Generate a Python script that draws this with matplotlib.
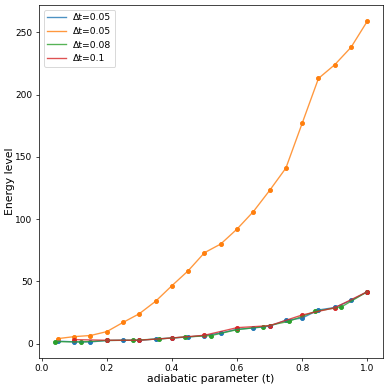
import matplotlib
matplotlib.use('Agg')
import matplotlib.pyplot as plt

# time grids for each step size
t_005 = [0.05, 0.1, 0.15, 0.2, 0.25, 0.3, 0.35, 0.4, 0.45, 0.5,
         0.55, 0.6, 0.65, 0.7, 0.75, 0.8, 0.85, 0.9, 0.95, 1.0]
t_008 = [0.04, 0.12, 0.2, 0.28, 0.36, 0.44, 0.52, 0.6, 0.68, 0.76, 0.84, 0.92, 1.0]
t_01 = [0.1, 0.2, 0.3, 0.4, 0.5, 0.6, 0.7, 0.8, 0.9, 1.0]

# energy levels
e_blue = [2.0, 1.4, 1.3, 2.5, 2.7, 2.6, 3.7, 4.5, 5.3, 6.5,
          8.5, 11.5, 12.5, 14.0, 18.7, 20.5, 27.0, 29.0, 34.7, 41.7]
e_orange = [4.0, 5.6, 6.5, 9.6, 17.0, 24.0, 34.0, 46.5, 58.5, 73.0,
            80.0, 92.0, 106.0, 123.0, 141.0, 177.0, 213.0, 224.0, 238.0, 259.0]
e_green = [1.6, 1.3, 2.5, 2.7, 3.7, 5.3, 6.4, 11.2, 13.6, 17.9, 25.9, 29.4, 41.7]
e_red = [3.2, 2.7, 2.7, 4.5, 6.7, 12.8, 14.4, 23.0, 28.8, 41.7]

series = [
    (t_005, e_blue, 'tab:blue', 'Δt=0.05'),
    (t_005, e_orange, 'tab:orange', 'Δt=0.05'),
    (t_008, e_green, 'tab:green', 'Δt=0.08'),
    (t_01, e_red, 'tab:red', 'Δt=0.1'),
]

fig = plt.figure(figsize=(6, 6), dpi=65)
ax = fig.add_axes([0.1, 0.082, 0.882, 0.905])

for t, e, c, lab in series:
    ax.plot(t, e, color=c, alpha=0.8, label=lab)
    ax.scatter(t, e, color=c, s=20)

ax.set_xlabel('adiabatic parameter (t)', fontsize=12, labelpad=1)
ax.set_ylabel('Energy level', fontsize=12, labelpad=0.5)
ax.legend(loc='upper left', fontsize=10.3)

plt.savefig('out.png', dpi=65)
